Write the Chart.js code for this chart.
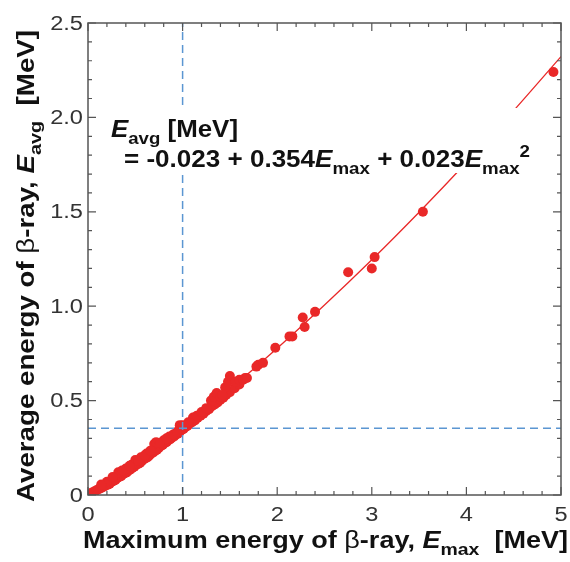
<!DOCTYPE html>
<html lang="en">
<head>
  <meta charset="UTF-8">
  <title>Average vs maximum beta-ray energy</title>
  <script src="https://cdn.jsdelivr.net/npm/chart.js@4.4.0/dist/chart.umd.min.js"></script>
  <style>
    body { margin: 0; background: #fff; }
    #wrap { width: 570px; height: 562px; }
  </style>
</head>
<body>
  <div id="wrap"><canvas id="beta-chart" width="570" height="562"></canvas></div>

  <script>
    // measured nuclides: maximum energy vs average energy [MeV]
    const eMax = [
      0.01, 0.03, 0.05, 0.07, 0.09, 0.11, 0.13, 0.15, 0.17, 0.19,
      0.21, 0.23, 0.25, 0.27, 0.29, 0.31, 0.33, 0.35, 0.37, 0.39,
      0.41, 0.43, 0.45, 0.47, 0.49, 0.51, 0.53, 0.55, 0.57, 0.59,
      0.61, 0.63, 0.65, 0.67, 0.69, 0.71, 0.73, 0.75, 0.77, 0.79,
      0.81, 0.83, 0.85, 0.87, 0.89, 0.91, 0.93, 0.95, 0.97, 0.99,
      1.01, 1.03, 1.05, 1.07, 1.10, 1.13, 1.16, 1.19, 1.22, 1.25,
      1.28, 1.31, 1.34, 1.37, 1.40, 1.43, 1.46, 1.50, 1.55, 1.60,
      0.20, 0.32, 0.40, 0.46, 0.50, 0.56, 0.62, 0.70, 0.72, 0.80,
      0.86, 0.97, 1.00, 1.11, 1.15, 1.30, 1.33, 1.36, 1.45, 1.48,
      1.50, 1.56, 1.60, 1.64, 1.66, 1.68, 1.78, 1.80, 1.85, 1.98,
      2.13, 2.16, 2.27, 2.29, 2.40, 2.75, 3.00, 3.03, 3.54, 4.92,
      0.14, 0.26, 0.36, 0.44, 0.53, 0.60, 0.66, 0.76, 0.83, 0.90,
      0.94, 1.06, 1.20, 1.25, 1.40, 1.42
    ];
    const eAvg = [
      0.000, 0.010, 0.015, 0.020, 0.025, 0.030, 0.035, 0.040, 0.045, 0.050,
      0.055, 0.060, 0.070, 0.075, 0.080, 0.090, 0.095, 0.100, 0.110, 0.115,
      0.120, 0.130, 0.135, 0.145, 0.150, 0.160, 0.165, 0.170, 0.180, 0.190,
      0.195, 0.200, 0.210, 0.220, 0.225, 0.235, 0.240, 0.250, 0.260, 0.265,
      0.275, 0.280, 0.290, 0.295, 0.305, 0.310, 0.320, 0.325, 0.335, 0.345,
      0.350, 0.360, 0.365, 0.375, 0.385, 0.395, 0.410, 0.420, 0.430, 0.445,
      0.455, 0.470, 0.480, 0.490, 0.505, 0.515, 0.530, 0.545, 0.565, 0.585,
      0.070, 0.120, 0.140, 0.160, 0.185, 0.200, 0.220, 0.270, 0.280, 0.290,
      0.310, 0.370, 0.370, 0.410, 0.420, 0.500, 0.520, 0.540, 0.570, 0.600,
      0.630, 0.600, 0.610, 0.610, 0.620, 0.620, 0.680, 0.690, 0.700, 0.780,
      0.840, 0.840, 0.940, 0.890, 0.970, 1.180, 1.200, 1.260, 1.500, 2.240,
      0.055, 0.095, 0.130, 0.155, 0.180, 0.210, 0.235, 0.275, 0.300, 0.320,
      0.335, 0.385, 0.440, 0.460, 0.520, 0.530
    ];

    // fitted curve
    const fitX = [0, 0.25, 0.5, 0.75, 1.0, 1.5, 2.0, 2.5, 3.0, 3.5, 4.0, 4.5, 5.0];
    const fitY = [-0.023, 0.067, 0.160, 0.255, 0.354, 0.560, 0.777, 1.006, 1.246, 1.498, 1.761, 2.036, 2.322];

    // reference lines at Emax = 1 MeV
    const refX = 1.0;
    const refY = 0.354;

    const xTicks = [0, 1, 2, 3, 4, 5];
    const yTicks = [0, 0.5, 1.0, 1.5, 2.0, 2.5];
    const yTickLabels = ['0', '0.5', '1.0', '1.5', '2.0', '2.5'];

    const RED = 'rgb(233, 40, 40)';
    const BLUE = 'rgb(91, 150, 210)';
    const AXIS = '#555';
    const FONT = '"Liberation Sans", Arial, sans-serif';
    const STRETCH = 1.18; // text in the original is drawn a bit wide

    const points = eMax.map((x, i) => ({ x: x, y: eAvg[i] }));
    const fit = fitX.map((x, i) => ({ x: x, y: fitY[i] }));

    function setFont(ctx, r, size) {
      let fs = size;
      if (r.sub || r.sup) fs = size * 0.72;
      const weight = r.b === false ? 'normal' : 'bold';
      const style = r.i ? 'italic' : 'normal';
      ctx.font = style + ' ' + weight + ' ' + fs + 'px ' + FONT;
    }

    function runsWidth(ctx, runs, size) {
      let w = 0;
      for (const r of runs) { setFont(ctx, r, size); w += ctx.measureText(r.t).width; }
      return w;
    }

    // draw styled runs, squeezed/stretched horizontally to a given width
    function drawRuns(ctx, runs, x, y, size, width) {
      const natural = runsWidth(ctx, runs, size);
      const sx = width ? width / natural : STRETCH;
      ctx.save();
      ctx.translate(x, y);
      ctx.scale(sx, 1);
      let cx = 0;
      for (const r of runs) {
        let dy = 0;
        if (r.sub) dy = size * 0.3;
        if (r.sup) dy = -size * 0.45;
        setFont(ctx, r, size);
        ctx.fillText(r.t, cx, dy);
        cx += ctx.measureText(r.t).width;
      }
      ctx.restore();
    }

    const framePlugin = {
      id: 'frame',
      afterDatasetsDraw(chart) {
        const ctx = chart.ctx;
        const a = chart.chartArea;
        const xs = chart.scales.x, ys = chart.scales.y;
        ctx.save();

        // white box behind the equation (hides lines under it)
        ctx.fillStyle = '#fff';
        ctx.fillRect(105, 108, 412, 65);

        // equation
        ctx.fillStyle = '#111';
        ctx.textBaseline = 'alphabetic';
        ctx.textAlign = 'left';
        drawRuns(ctx, [{ t: 'E', i: true }, { t: 'avg', sub: true }, { t: ' [MeV]' }], 111, 137, 23, 127);
        drawRuns(ctx, [
          { t: '= -0.023 + 0.354' }, { t: 'E', i: true }, { t: 'max', sub: true },
          { t: ' + 0.023' }, { t: 'E', i: true }, { t: 'max', sub: true }, { t: '2', sup: true }
        ], 124, 167, 23, 406);

        // frame
        ctx.strokeStyle = AXIS;
        ctx.lineWidth = 1.5;
        ctx.strokeRect(a.left, a.top, a.right - a.left, a.bottom - a.top);

        // inward ticks on all four sides
        ctx.lineWidth = 1.2;
        ctx.beginPath();
        for (let k = 0; k <= 25; k++) {
          const px = xs.getPixelForValue(k / 5);
          const len = k % 5 === 0 ? 8 : 4;
          ctx.moveTo(px, a.bottom); ctx.lineTo(px, a.bottom - len);
          ctx.moveTo(px, a.top); ctx.lineTo(px, a.top + len);
        }
        for (let k = 0; k <= 25; k++) {
          const py = ys.getPixelForValue(k / 10);
          const len = k % 5 === 0 ? 8 : 4;
          ctx.moveTo(a.left, py); ctx.lineTo(a.left + len, py);
          ctx.moveTo(a.right, py); ctx.lineTo(a.right - len, py);
        }
        ctx.stroke();

        // tick labels
        ctx.fillStyle = '#333';
        ctx.font = '20px ' + FONT;
        xTicks.forEach(v => {
          const px = xs.getPixelForValue(v);
          const w = ctx.measureText(String(v)).width * STRETCH;
          ctx.save();
          ctx.translate(px - w / 2, 521);
          ctx.scale(STRETCH, 1);
          ctx.fillText(String(v), 0, 0);
          ctx.restore();
        });
        ctx.textBaseline = 'middle';
        yTicks.forEach((v, i) => {
          const py = ys.getPixelForValue(v);
          const w = ctx.measureText(yTickLabels[i]).width * STRETCH;
          ctx.save();
          ctx.translate(83 - w, py + 1);
          ctx.scale(STRETCH, 1);
          ctx.fillText(yTickLabels[i], 0, 0);
          ctx.restore();
        });
        ctx.textBaseline = 'alphabetic';

        // axis titles
        ctx.fillStyle = '#111';
        drawRuns(ctx, [
          { t: 'Maximum energy of ' }, { t: '\u03b2', b: false }, { t: '-ray, ' },
          { t: 'E', i: true }, { t: 'max', sub: true }, { t: '  [MeV]' }
        ], 83, 548, 24, 485);

        ctx.save();
        ctx.translate(34, 502);
        ctx.rotate(-Math.PI / 2);
        drawRuns(ctx, [
          { t: 'Average energy of ' }, { t: '\u03b2', b: false }, { t: '-ray, ' },
          { t: 'E', i: true }, { t: 'avg', sub: true }, { t: '  [MeV]' }
        ], 0, 0, 24, 472);
        ctx.restore();

        ctx.restore();
      }
    };

    new Chart(document.getElementById('beta-chart'), {
      type: 'scatter',
      data: {
        datasets: [
          {
            label: 'fit',
            type: 'line',
            data: fit,
            borderColor: RED,
            borderWidth: 1.3,
            pointRadius: 0,
            cubicInterpolationMode: 'monotone',
            order: 3
          },
          {
            label: 'nuclides',
            data: points,
            backgroundColor: RED,
            borderColor: RED,
            borderWidth: 0,
            pointRadius: 5,
            order: 2
          },
          {
            label: 'Emax = 1',
            type: 'line',
            data: [{ x: refX, y: 0 }, { x: refX, y: 2.5 }],
            borderColor: BLUE,
            borderWidth: 1.5,
            borderDash: [8, 5],
            pointRadius: 0,
            order: 1
          },
          {
            label: 'Eavg at 1',
            type: 'line',
            data: [{ x: 0, y: refY }, { x: 5, y: refY }],
            borderColor: BLUE,
            borderWidth: 1.5,
            borderDash: [8, 5],
            pointRadius: 0,
            order: 1
          }
        ]
      },
      options: {
        responsive: false,
        animation: false,
        layout: { padding: { top: 23, right: 9, left: 0, bottom: 0 } },
        plugins: { legend: { display: false }, tooltip: { enabled: false } },
        scales: {
          x: {
            type: 'linear',
            min: 0, max: 5,
            afterBuildTicks: s => { s.ticks = xTicks.map(v => ({ value: v })); },
            afterFit: s => { s.height = 67; s.paddingLeft = 0; s.paddingRight = 0; },
            grid: { display: false, drawTicks: false },
            border: { display: false },
            ticks: { display: false }
          },
          y: {
            type: 'linear',
            min: 0, max: 2.5,
            afterBuildTicks: s => { s.ticks = yTicks.map(v => ({ value: v })); },
            afterFit: s => { s.width = 88; s.paddingTop = 0; s.paddingBottom = 0; },
            grid: { display: false, drawTicks: false },
            border: { display: false },
            ticks: { display: false }
          }
        }
      },
      plugins: [framePlugin]
    });
  </script>
</body>
</html>
